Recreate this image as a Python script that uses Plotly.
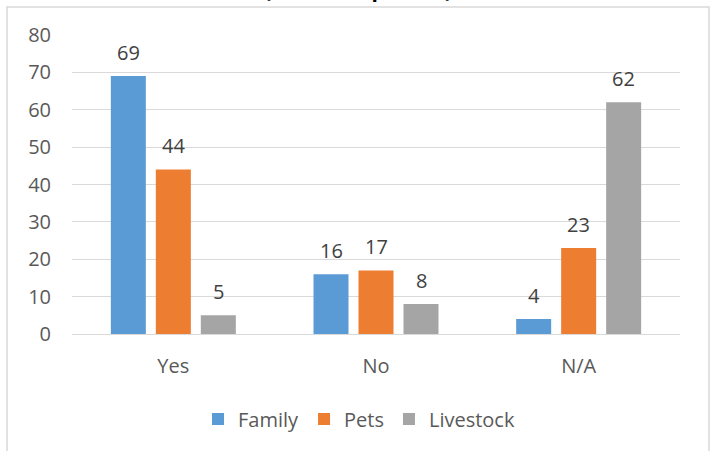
import plotly.graph_objects as go

categories = ["Yes", "No", "N/A"]
family = [69, 16, 4]
pets = [44, 17, 23]
livestock = [5, 8, 62]
series_names = ["Family", "Pets", "Livestock"]
y_ticks = [0, 10, 20, 30, 40, 50, 60, 70, 80]

W, H = 713, 451
L, R, T, B = 72, 33, 35, 117
FONT = "Open Sans, Liberation Sans, sans-serif"


def px_to_paper_x(px):
    return (px - L) / (W - L - R)


def px_to_paper_y(py):
    return (H - B - py) / (H - T - B)


colors = ["#5B9BD5", "#ED7D31", "#A5A5A5"]
slot_shift = [-45, 0, 45]

fig = go.Figure()
for name, vals, col, dx in zip(series_names, [family, pets, livestock], colors, slot_shift):
    fig.add_trace(
        go.Bar(
            x=categories,
            y=vals,
            name=name,
            marker=dict(color=col, line=dict(width=0)),
        )
    )
    # data labels, sitting a bit higher than plotly's own outside text
    for cat, v in zip(categories, vals):
        fig.add_annotation(
            x=cat,
            y=v,
            text=str(v),
            showarrow=False,
            xanchor="center",
            yanchor="middle",
            xshift=dx,
            yshift=24,
            font=dict(size=20, color="#404040", family=FONT),
        )

# chart-area border (runs off the bottom of the picture)
fig.add_shape(
    type="rect",
    xref="paper",
    yref="paper",
    x0=px_to_paper_x(7),
    x1=px_to_paper_x(709),
    y0=px_to_paper_y(480),
    y1=px_to_paper_y(7),
    line=dict(color="#d9d9d9", width=1.5),
    layer="below",
)

# title, mostly cut off at the top of the picture
fig.add_annotation(
    text="<b>(No. of responses)</b>",
    xref="paper",
    yref="paper",
    x=px_to_paper_x(358),
    y=px_to_paper_y(5.5),
    xanchor="center",
    yanchor="bottom",
    showarrow=False,
    font=dict(size=21, color="#000000", family=FONT),
)

fig.update_layout(
    width=W,
    height=H,
    margin=dict(l=L, r=R, t=T, b=B),
    barmode="group",
    bargap=0.334,
    bargroupgap=0.222,
    plot_bgcolor="white",
    paper_bgcolor="white",
    font=dict(family=FONT, size=20, color="#595959"),
    showlegend=True,
    legend=dict(
        orientation="h",
        x=px_to_paper_x(359),
        xanchor="center",
        y=px_to_paper_y(419),
        yanchor="middle",
        font=dict(size=20, color="#595959"),
        itemclick=False,
    ),
)
fig.update_xaxes(
    showline=True,
    linecolor="#d9d9d9",
    linewidth=1,
    ticks="",
    ticklabelstandoff=14,
    showgrid=False,
)
fig.update_yaxes(
    range=[0, 80],
    tickvals=y_ticks,
    showgrid=True,
    gridcolor="#d9d9d9",
    gridwidth=1,
    zeroline=False,
    showline=False,
    ticks="",
    ticklabelstandoff=20,
)

# drop the default 8px body margin so the figure fills the window
fig.write_html(
    "out.html",
    config={"displayModeBar": False},
    post_script="document.body.style.margin='0';document.body.style.overflow='hidden';",
)
